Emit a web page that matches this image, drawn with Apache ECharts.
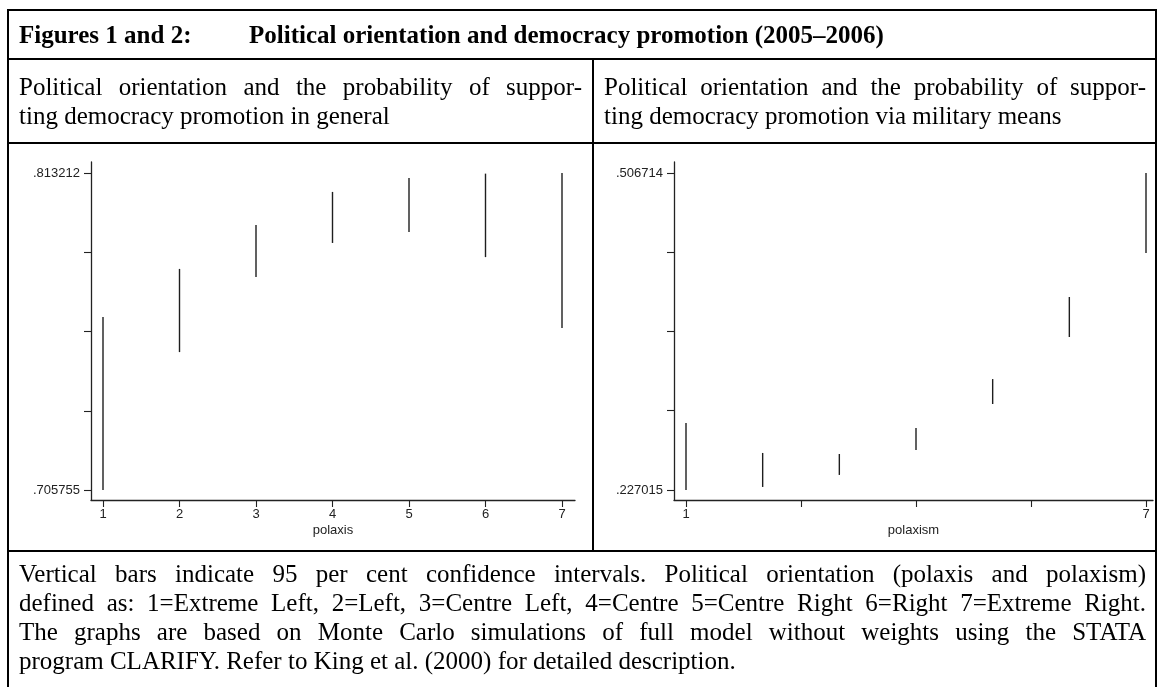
<!DOCTYPE html>
<html>
<head>
<meta charset="utf-8">
<script src="https://cdn.jsdelivr.net/npm/echarts@6/dist/echarts.min.js"></script>
<style>
  html, body { margin:0; padding:0; background:#fff; }
  #page { position:relative; width:1164px; height:687px; overflow:hidden; background:#fff; }
  #chart { position:absolute; left:0; top:0; width:1164px; height:687px; }
  .rule { position:absolute; background:#000; }
  .txt { position:absolute; font-family:'Liberation Serif','Times New Roman',serif; font-size:25px; line-height:29px; color:#000; white-space:nowrap; }
  .just { text-align:justify; text-align-last:justify; white-space:normal; }
  .bold { font-weight:bold; }
</style>
</head>
<body>
<div id="page">
  <div id="chart"></div>
  <!-- borders -->
  <div class="rule" style="left:7px;top:9px;width:2px;height:690px;"></div>
  <div class="rule" style="left:1155px;top:9px;width:2px;height:690px;"></div>
  <div class="rule" style="left:7px;top:9px;width:1150px;height:2px;"></div>
  <div class="rule" style="left:7px;top:58px;width:1150px;height:2px;"></div>
  <div class="rule" style="left:7px;top:142px;width:1150px;height:2px;"></div>
  <div class="rule" style="left:7px;top:550px;width:1150px;height:2px;"></div>
  <div class="rule" style="left:592px;top:58px;width:2px;height:494px;"></div>

  <div class="txt bold" style="left:19px;top:20px;">Figures 1 and 2:</div>
  <div class="txt bold" style="left:249px;top:20px;">Political orientation and democracy promotion (2005–2006)</div>

  <div class="txt just" style="left:19px;top:72px;width:563px;">Political orientation and the probability of suppor-</div>
  <div class="txt" style="left:19px;top:101px;">ting democracy promotion in general</div>
  <div class="txt just" style="left:604px;top:72px;width:542px;">Political orientation and the probability of suppor-</div>
  <div class="txt" style="left:604px;top:101px;">ting democracy promotion via military means</div>

  <div class="txt just" style="left:19px;top:559px;width:1127px;">Vertical bars indicate 95 per cent confidence intervals. Political orientation (polaxis and polaxism)</div>
  <div class="txt just" style="left:19px;top:588px;width:1127px;">defined as: 1=Extreme Left, 2=Left, 3=Centre Left, 4=Centre 5=Centre Right 6=Right 7=Extreme Right.</div>
  <div class="txt just" style="left:19px;top:617px;width:1127px;">The graphs are based on Monte Carlo simulations of full model without weights using the STATA</div>
  <div class="txt" style="left:19px;top:646px;">program CLARIFY. Refer to King et al. (2000) for detailed description.</div>
</div>
<script>
// ---- data ----
const categories = [1, 2, 3, 4, 5, 6, 7];

// Figure 1: support for democracy promotion in general (95% CI)
const generalLow  = [0.705755, 0.7525, 0.7780, 0.7895, 0.7932, 0.7847, 0.7607];
const generalHigh = [0.7644, 0.7807, 0.7956, 0.8068, 0.8115, 0.8130, 0.813212];

// Figure 2: support for democracy promotion via military means (95% CI)
const militaryLow  = [0.227015, 0.2297, 0.2403, 0.2623, 0.3029, 0.3620, 0.4361];
const militaryHigh = [0.2861, 0.2597, 0.2588, 0.2817, 0.3249, 0.3973, 0.506714];

// axis ticks / labels
const leftYTicks  = [0.705755, 0.732619, 0.759484, 0.786348, 0.813212];
const leftYLabels = [0.705755, 0.813212];
const rightYTicks  = [0.227015, 0.296940, 0.366865, 0.436790, 0.506714];
const rightYLabels = [0.227015, 0.506714];
const leftXTicks  = [1, 2, 3, 4, 5, 6, 7];
const leftXLabels = [1, 2, 3, 4, 5, 6, 7];
const rightXTicks  = [1, 2.5, 4, 5.5, 7];
const rightXLabels = [1, 7];
const xNames = ['polaxis', 'polaxism'];

// ---- chart ----
const AX = '#222';
const FONT = "'Liberation Sans', Arial, sans-serif";

function fmtY(v) { return Number(v).toFixed(6).replace(/^0/, ''); }

function renderCI(params, api) {
  const x = api.value(0);
  const p1 = api.coord([x, api.value(1)]);
  const p2 = api.coord([x, api.value(2)]);
  return {
    type: 'line',
    shape: { x1: p1[0], y1: p1[1], x2: p2[0], y2: p2[1] },
    style: { stroke: '#1e1e1e', lineWidth: 1.4 }
  };
}

function xAxis(idx, min, max, ticks, labels, name) {
  return {
    type: 'value', gridIndex: idx, min: min, max: max,
    name: name, nameLocation: 'middle', nameGap: 24,
    nameTextStyle: { fontFamily: FONT, fontSize: 13, color: AX },
    axisLine: { show: true, onZero: false, lineStyle: { color: AX, width: 1.3 } },
    axisTick: { show: true, length: 7, customValues: ticks, lineStyle: { color: AX, width: 1.1 } },
    axisLabel: { customValues: labels, margin: 8, fontFamily: FONT, fontSize: 13, color: AX, showMinLabel: true, showMaxLabel: true },
    splitLine: { show: false }
  };
}
function yAxis(idx, min, max, ticks, labels) {
  return {
    type: 'value', gridIndex: idx, min: min, max: max,
    axisLine: { show: true, onZero: false, lineStyle: { color: AX, width: 1.3 } },
    axisTick: { show: true, length: 7, customValues: ticks, lineStyle: { color: AX, width: 1.1 } },
    axisLabel: { customValues: labels, margin: 11, fontFamily: FONT, fontSize: 13, color: AX, formatter: fmtY, showMinLabel: true, showMaxLabel: true },
    splitLine: { show: false }
  };
}

// axis ranges: a little room beyond the extreme ticks, as in the Stata plots
const lPxUnitY = (leftYTicks[4] - leftYTicks[0]) / 317;
const rPxUnitY = (rightYTicks[4] - rightYTicks[0]) / 317;

const chart = echarts.init(document.getElementById('chart'), null, { renderer: 'canvas' });
chart.setOption({
  animation: false,
  backgroundColor: 'transparent',
  grid: [
    { left: 91, top: 162, width: 484, height: 338 },
    { left: 674, top: 162, width: 479, height: 338 }
  ],
  xAxis: [
    xAxis(0, 1 - 12 / 76.5, 7 + 13 / 76.5, leftXTicks, leftXLabels, xNames[0]),
    xAxis(1, 1 - 12 / 76.67, 7 + 7 / 76.67, rightXTicks, rightXLabels, xNames[1])
  ],
  yAxis: [
    yAxis(0, leftYTicks[0] - 10 * lPxUnitY, leftYTicks[4] + 11 * lPxUnitY, leftYTicks, leftYLabels),
    yAxis(1, rightYTicks[0] - 10 * rPxUnitY, rightYTicks[4] + 11 * rPxUnitY, rightYTicks, rightYLabels)
  ],
  series: [
    { type: 'custom', xAxisIndex: 0, yAxisIndex: 0, renderItem: renderCI,
      data: categories.map((c, i) => [c, generalLow[i], generalHigh[i]]) },
    { type: 'custom', xAxisIndex: 1, yAxisIndex: 1, renderItem: renderCI,
      data: categories.map((c, i) => [c, militaryLow[i], militaryHigh[i]]) }
  ]
});
</script>
</body>
</html>
